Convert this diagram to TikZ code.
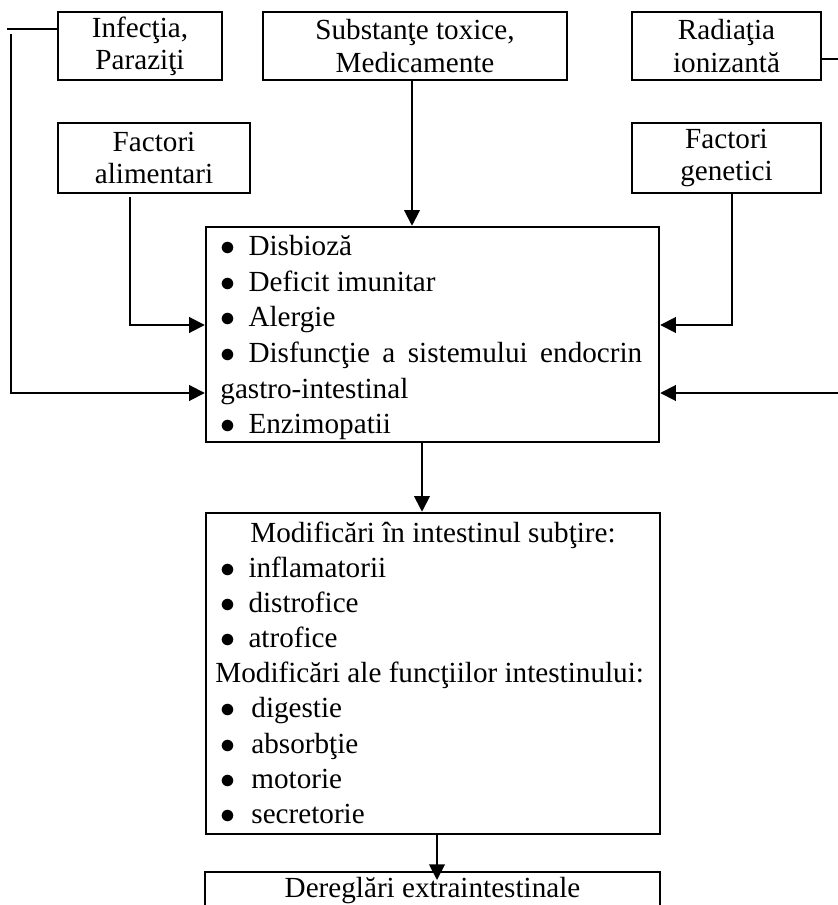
\documentclass[tikz,border=0pt]{standalone}
\usepackage{fontspec}
\setmainfont{Liberation Serif}
\usetikzlibrary{arrows.meta}
\newcommand\bdot{\makebox[0pt][l]{\hspace{-0.4pt}$\bullet$}}
\newcommand\bitem[1]{\makebox[13pt][l]{\bdot}#1}
\newcommand\bitemb[1]{\makebox[14.4pt][l]{\bdot}#1}
\begin{document}
\begin{tikzpicture}[x=0.48pt,y=-0.48pt,
 box/.style={draw,line width=1.2pt,inner sep=0pt,align=center,font=\fontsize{14}{15.4}\selectfont},
 ln/.style={line width=0.9pt},
 arr/.style={ln,-{Triangle[length=7.5pt,width=7.5pt]}},
 txt/.style={anchor=base west,inner sep=0pt,font=\fontsize{14}{17}\selectfont},
]
\useasboundingbox (0,0) rectangle (838,905);
\clip (0,0) rectangle (838,905);

% top boxes
\node[box,minimum width=78.7pt,minimum height=32.6pt] (inf) at (140,46) {Infecţia,\\Paraziţi};
\node[box,minimum width=145.9pt,minimum height=32.6pt] (sub) at (415,46) {Substanţe toxice,\\Medicamente};
\node[box,minimum width=90.7pt,minimum height=32.6pt] (rad) at (726.5,46) {Radiaţia\\ionizantă};
\node[box,minimum width=92.2pt,minimum height=33.6pt] (ali) at (154,158) {Factori\\alimentari};
\node[box,minimum width=90.7pt,minimum height=33.6pt] (gen) at (726.5,158) {Factori\\genetici};

% central box
\node[box,minimum width=217.4pt,minimum height=103.2pt] (cen) at (432.5,334.5) {};
\node[txt] (c1) at (221,256) {\bitem{Disbioză}};
\node[txt] (c2) at (221,291.5) {\bitem{Deficit imunitar}};
\node[txt] (c3) at (221,327) {\bitem{Alergie}};
\node[txt] (c4) at (221,362.5) {\makebox[13pt][l]{\bdot}\makebox[189pt][s]{Disfuncţie a sistemului endocrin}};
\node[txt] (c5) at (220,398) {gastro-intestinal};
\node[txt] (c6) at (221,433.5) {\bitem{Enzimopatii}};

% modifications box
\node[box,minimum width=217.9pt,minimum height=154.1pt] (mod) at (433,673.5) {};
\node[txt,anchor=base] (m0) at (433,542) {Modificări în intestinul subţire:};
\node[txt] (m1) at (221,577) {\bitem{inflamatorii}};
\node[txt] (m2) at (221,612) {\bitem{distrofice}};
\node[txt] (m3) at (221,647) {\bitem{atrofice}};
\node[txt] (m4) at (215,682) {Modificări ale funcţiilor intestinului:};
\node[txt] (m5) at (221,717) {\bitemb{digestie}};
\node[txt] (m6) at (221,753) {\bitemb{absorbţie}};
\node[txt] (m7) at (221,788) {\bitemb{motorie}};
\node[txt] (m8) at (221,823) {\bitemb{secretorie}};

% bottom box
\node[box,minimum width=218.4pt,minimum height=37.4pt] (der) at (432.5,911) {};
\node[txt,anchor=base] (d0) at (432.5,897) {Dereglări extraintestinale};

% helper coordinates
\coordinate (y29) at (0,29);
\coordinate (y59) at (0,59);
\coordinate (y325) at (0,325);
\coordinate (y393) at (0,393);
\coordinate (y880) at (0,880);
\coordinate (x412) at (412,0);
\coordinate (x422) at (422,0);
\coordinate (x437) at (437,0);
\coordinate (x732) at (732,0);
\coordinate (infH) at (7,29);
\coordinate (infV) at (11,34);
\coordinate (aliV) at (130,197);
\coordinate (radR) at (842,59);
\coordinate (radD) at (842,393);

% connectors
\draw[ln] (inf.west |- y29) -- (infH);
\draw[arr] (infV) |- (cen.west |- y393);
\draw[arr] (sub.south -| x412) -- (cen.north -| x412);
\draw[arr] (rad.east |- y59) -- (radR) -- (radD) -- (cen.east |- y393);
\draw[arr] (aliV) |- (cen.west |- y325);
\draw[arr] (gen.south -| x732) |- (cen.east |- y325);
\draw[arr] (cen.south -| x422) -- (mod.north -| x422);
\draw[arr] (mod.south -| x437) -- (x437 |- y880);
\end{tikzpicture}
\end{document}
